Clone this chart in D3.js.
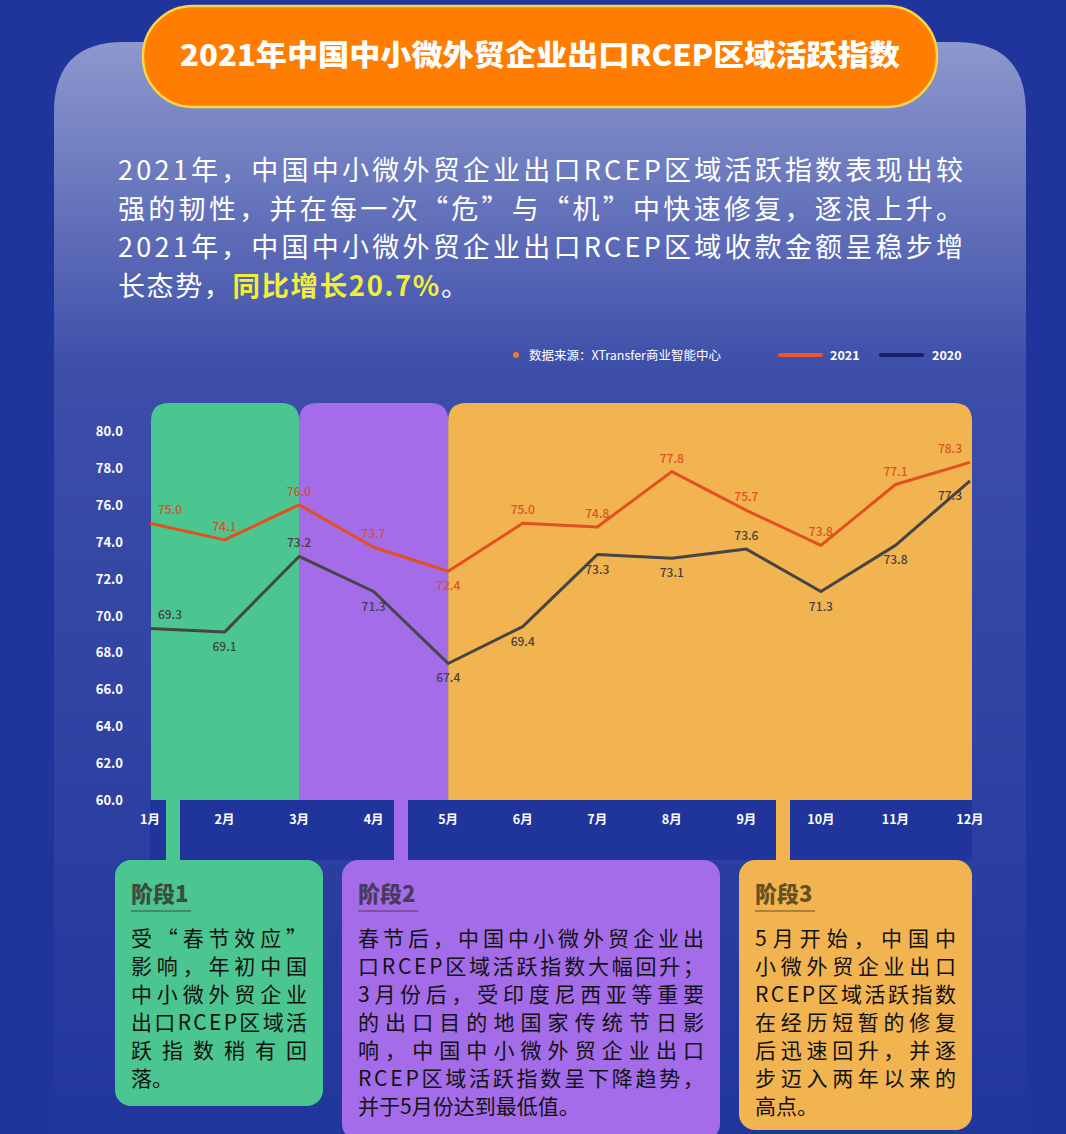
<!DOCTYPE html>
<html>
<head>
<meta charset="utf-8">
<script src="https://cdn.jsdelivr.net/npm/d3@7"></script>
<style>
  body { margin: 0; background: #1f359b; }
  svg { display: block; font-family: "Noto Sans CJK SC", "Noto Sans", sans-serif; }
</style>
</head>
<body>
<svg width="1066" height="1134"></svg>

<script>

var months = ["1月", "2月", "3月", "4月", "5月", "6月", "7月", "8月", "9月", "10月", "11月", "12月"];
var y2021 = [75.0, 74.1, 76.0, 73.7, 72.4, 75.0, 74.8, 77.8, 75.7, 73.8, 77.1, 78.3];
var y2020 = [69.3, 69.1, 73.2, 71.3, 67.4, 69.4, 73.3, 73.1, 73.6, 71.3, 73.8, 77.3];
// label placement: 1 = above the point, -1 = below
var pos2021 = [1, 1, 1, 1, -1, 1, 1, 1, 1, 1, 1, 1];
var pos2020 = [1, -1, 1, -1, -1, -1, -1, -1, 1, -1, -1, -1];
var yTicks = [60, 62, 64, 66, 68, 70, 72, 74, 76, 78, 80];

var title = "2021年中国中小微外贸企业出口RCEP区域活跃指数";
var intro = [
  "2021年，中国中小微外贸企业出口RCEP区域活跃指数表现出较",
  "强的韧性，并在每一次“危”与“机”中快速修复，逐浪上升。",
  "2021年，中国中小微外贸企业出口RCEP区域收款金额呈稳步增"
];
var sourceText = "数据来源：XTransfer商业智能中心";

var stages = [
  {name: "阶段1", from: 0, to: 2, fill: "#4cc690", head: "#3b4d3f", stem: 173,
   box: [115, 860, 208, 246],
   lines: ["受“春节效应”", "影响，年初中国", "中小微外贸企业", "出口RCEP区域活", "跃指数稍有回", "落。"]},
  {name: "阶段2", from: 2, to: 4, fill: "#a46ce8", head: "#4a3a5c", stem: 401,
   box: [342, 860, 378, 280],
   lines: ["春节后，中国中小微外贸企业出", "口RCEP区域活跃指数大幅回升；", "3月份后，受印度尼西亚等重要", "的出口目的地国家传统节日影", "响，中国中小微外贸企业出口", "RCEP区域活跃指数呈下降趋势，", "并于5月份达到最低值。"]},
  {name: "阶段3", from: 4, to: 11, fill: "#f2b450", head: "#6a4f22", stem: 783,
   box: [739, 860, 233, 270],
   lines: ["5月开始，中国中", "小微外贸企业出口", "RCEP区域活跃指数", "在经历短暂的修复", "后迅速回升，并逐", "步迈入两年以来的", "高点。"]}
];

var svg = d3.select("svg");
var defs = svg.append("defs");

var g1 = defs.append("linearGradient").attr("id", "panel").attr("x1", 0).attr("y1", 0).attr("x2", 0).attr("y2", 1);
g1.append("stop").attr("offset", "0").attr("stop-color", "#8d98cd");
g1.append("stop").attr("offset", "0.3").attr("stop-color", "#3d4ea9");
g1.append("stop").attr("offset", "1").attr("stop-color", "#21369c");

// background + panel
svg.append("rect").attr("width", 1066).attr("height", 1134).attr("fill", "#1f359b");
svg.append("path")
    .attr("d", "M54,1134 L54,112 Q54,42 124,42 L956,42 Q1026,42 1026,112 L1026,1134 Z")
    .attr("fill", "url(#panel)");

// title pill
svg.append("rect")
    .attr("x", 143).attr("y", 6).attr("width", 794).attr("height", 101).attr("rx", 50)
    .attr("fill", "#ff7d00").attr("stroke", "#f5d84a").attr("stroke-width", 2.5);
svg.append("text")
    .attr("x", 540).attr("y", 66).attr("text-anchor", "middle")
    .attr("fill", "#fff").attr("font-size", 29).attr("font-weight", 900)
    .attr("textLength", 720).attr("lengthAdjust", "spacingAndGlyphs")
    .text(title);

// intro paragraph
svg.selectAll("text.intro")
  .data(intro)
  .enter().append("text")
    .attr("class", "intro")
    .attr("x", 118).attr("y", function(d, i) { return 180 + i * 38.5; })
    .attr("fill", "#fff").attr("font-size", 27)
    .attr("textLength", 845).attr("lengthAdjust", "spacing")
    .text(function(d) { return d; });
var last = svg.append("text").attr("x", 118).attr("y", 295.5).attr("font-size", 27)
    .attr("letter-spacing", 1.6).attr("fill", "#fff");
last.append("tspan").text("长态势，");
last.append("tspan").attr("fill", "#f2ee3a").attr("font-weight", 700).attr("font-size", 27.5).text("同比增长20.7%");
last.append("tspan").text("。");

// legend
svg.append("circle").attr("cx", 516).attr("cy", 355).attr("r", 3).attr("fill", "#f07c2a");
svg.append("text").attr("x", 529).attr("y", 359.5).attr("fill", "#fff").attr("font-size", 12.5).text(sourceText);
svg.append("line").attr("x1", 780).attr("x2", 821).attr("y1", 355).attr("y2", 355)
    .attr("stroke", "#e9582a").attr("stroke-width", 4).attr("stroke-linecap", "round");
svg.append("text").attr("x", 830).attr("y", 360).attr("fill", "#fff").attr("font-size", 12.5).attr("font-weight", 700).text("2021");
svg.append("line").attr("x1", 881).attr("x2", 922).attr("y1", 355).attr("y2", 355)
    .attr("stroke", "#1a1f6e").attr("stroke-width", 4).attr("stroke-linecap", "round");
svg.append("text").attr("x", 932).attr("y", 360).attr("fill", "#fff").attr("font-size", 12.5).attr("font-weight", 700).text("2020");

// scales
var x = d3.scalePoint().domain(d3.range(months.length)).range([150, 970]);
var y = d3.scaleLinear().domain([60, 80]).range([800, 431]);

// stage backgrounds (rounded top)
function topRounded(x0, x1, y0, y1, r) {
  return "M" + x0 + "," + y1 + "V" + (y0 + r) + "Q" + x0 + "," + y0 + " " + (x0 + r) + "," + y0 +
    "H" + (x1 - r) + "Q" + x1 + "," + y0 + " " + x1 + "," + (y0 + r) + "V" + y1 + "Z";
}
svg.selectAll("path.stage")
  .data(stages)
  .enter().append("path")
    .attr("class", "stage")
    .attr("d", function(d, i) {
      var x0 = x(d.from) + (i === 0 ? 1 : 0), x1 = x(d.to) + (i === 2 ? 2 : 0);
      return topRounded(x0, x1, 403, y(60), 18);
    })
    .attr("fill", function(d) { return d.fill; });

// axis label strip
svg.append("rect").attr("x", 150).attr("y", y(60)).attr("width", 822).attr("height", 60).attr("fill", "#1f359b");

// stems and boxes
svg.selectAll("rect.stem")
  .data(stages)
  .enter().append("rect")
    .attr("class", "stem")
    .attr("x", function(d) { return d.stem - 7; }).attr("y", y(60) - 1)
    .attr("width", 14).attr("height", 66)
    .attr("fill", function(d) { return d.fill; });

var box = svg.selectAll("g.box")
  .data(stages)
  .enter().append("g")
    .attr("class", "box");
box.append("rect")
    .attr("x", function(d) { return d.box[0]; }).attr("y", function(d) { return d.box[1]; })
    .attr("width", function(d) { return d.box[2]; }).attr("height", function(d) { return d.box[3]; })
    .attr("rx", 16)
    .attr("fill", function(d) { return d.fill; });
box.append("text")
    .attr("x", function(d) { return d.box[0] + 16; }).attr("y", 902)
    .attr("fill", function(d) { return d.head; })
    .attr("font-size", 22).attr("font-weight", 900)
    .text(function(d) { return d.name; });
box.append("line")
    .attr("x1", function(d) { return d.box[0] + 16; }).attr("x2", function(d) { return d.box[0] + 76; })
    .attr("y1", 911).attr("y2", 911)
    .attr("stroke", function(d) { return d.head; }).attr("stroke-width", 1);
box.each(function(d) {
  var w = d.box[2] - 32;
  d3.select(this).selectAll("text.body")
    .data(d.lines)
    .enter().append("text")
      .attr("class", "body")
      .attr("x", d.box[0] + 16)
      .attr("y", function(t, i) { return 946 + i * 28; })
      .attr("fill", "#111").attr("font-size", 21)
      .each(function(t, i) {
        if (i < d.lines.length - 1) d3.select(this).attr("textLength", w).attr("lengthAdjust", "spacing");
      })
      .text(function(t) { return t; });
});

// y axis labels
svg.selectAll("text.ytick")
  .data(yTicks)
  .enter().append("text")
    .attr("class", "ytick")
    .attr("x", 123).attr("y", function(d) { return y(d) + 5; })
    .attr("text-anchor", "end").attr("fill", "#fff")
    .attr("font-size", 13).attr("font-weight", 700)
    .text(function(d) { return d.toFixed(1); });

// x axis labels
svg.selectAll("text.xtick")
  .data(months)
  .enter().append("text")
    .attr("class", "xtick")
    .attr("x", function(d, i) { return x(i); }).attr("y", 824)
    .attr("text-anchor", "middle").attr("fill", "#fff")
    .attr("font-size", 12.5).attr("font-weight", 700)
    .text(function(d) { return d; });

// lines
var line = d3.line().x(function(d, i) { return x(i); }).y(function(d) { return y(d); });
svg.append("path").datum(y2020).attr("d", line)
    .attr("fill", "none").attr("stroke", "#454545").attr("stroke-width", 3).attr("stroke-linejoin", "round");
svg.append("path").datum(y2021).attr("d", line)
    .attr("fill", "none").attr("stroke", "#e2501f").attr("stroke-width", 3).attr("stroke-linejoin", "round");

// value labels
function labels(values, placement, color, cls) {
  svg.selectAll("text." + cls)
    .data(values)
    .enter().append("text")
      .attr("class", cls)
      .attr("x", function(d, i) { return x(i) + (i === 0 ? 20 : i === values.length - 1 ? -20 : 0); })
      .attr("y", function(d, i) { return y(d) + (placement[i] > 0 ? -9 : 19); })
      .attr("text-anchor", "middle").attr("fill", color)
      .attr("font-size", 12).attr("font-weight", 500)
      .text(function(d) { return d.toFixed(1); });
}
labels(y2021, pos2021, "#d9521f", "l2021");
labels(y2020, pos2020, "#3f4146", "l2020");

</script>
</body>
</html>
